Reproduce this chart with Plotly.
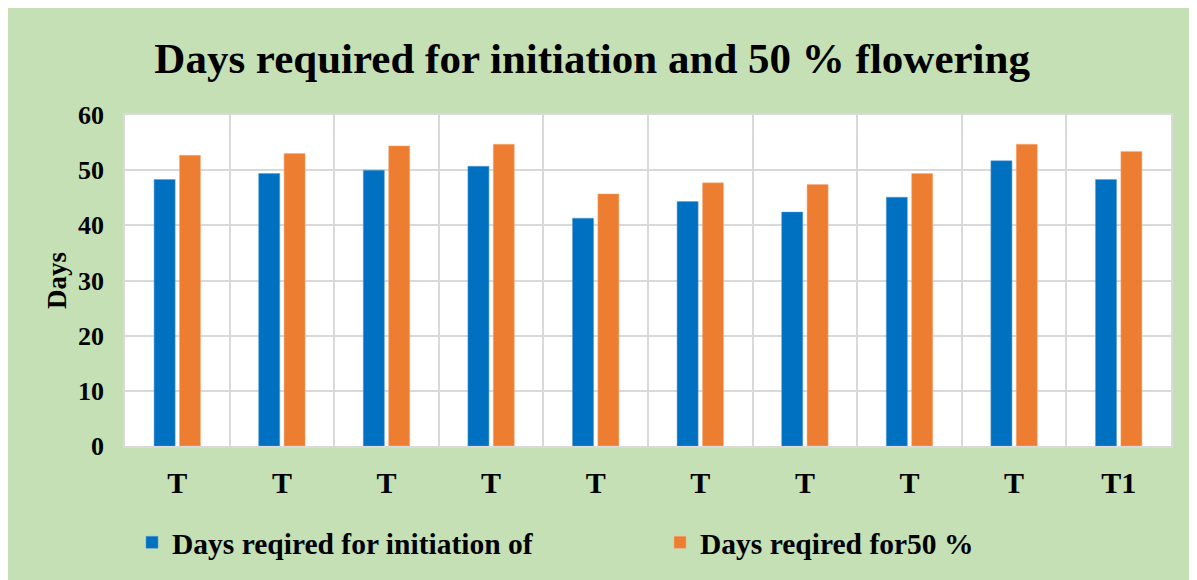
import plotly.graph_objects as go

categories = ["T", "T", "T", "T", "T", "T", "T", "T", "T", "T1"]
initiation = [48.3, 49.4, 50.0, 50.7, 41.3, 44.3, 42.4, 45.1, 51.7, 48.3]
flowering50 = [52.7, 53.0, 54.4, 54.7, 45.7, 47.7, 47.4, 49.4, 54.7, 53.4]
series_names = ["Days reqired for initiation of", "Days reqired for50 %"]
yticks = [0, 10, 20, 30, 40, 50, 60]

x = list(range(len(categories)))
boundaries = [i - 0.5 for i in range(len(categories) + 1)]

ff = "Liberation Serif"
grid_col = "#D9D9D9"

fig = go.Figure()
fig.add_trace(go.Bar(x=x, y=initiation, name=series_names[0], legend="legend",
                     marker=dict(color="#0070C0", line=dict(color="#5B9BD5", width=0.5))))
fig.add_trace(go.Bar(x=x, y=flowering50, name=series_names[1], legend="legend2",
                     marker=dict(color="#ED7D31", line=dict(color="#F4B183", width=0.5))))

leg_font = dict(family=ff, size=29.5, color="black", weight="bold")
fig.update_layout(
    width=1197, height=580,
    paper_bgcolor="#C5E0B4", plot_bgcolor="white",
    margin=dict(l=117, r=34, t=107, b=142),
    barmode="group", bargap=0.515, bargroupgap=0.17,
    title=dict(text="Days required for initiation and 50 % flowering",
               font=dict(family=ff, size=43, color="black", weight="bold"),
               x=0.488, xanchor="center", xref="container", y=0.914, yanchor="middle", yref="container"),
    legend=dict(orientation="h", x=0.0067, xanchor="left", y=-0.292, yanchor="middle",
                font=leg_font, bgcolor="rgba(0,0,0,0)"),
    legend2=dict(orientation="h", x=0.5115, xanchor="left", y=-0.292, yanchor="middle",
                 font=leg_font, bgcolor="rgba(0,0,0,0)"),
    showlegend=True,
)
fig.update_xaxes(
    tickmode="array", tickvals=x, ticktext=categories,
    range=[-0.5, len(categories) - 0.5],
    tickfont=dict(family=ff, size=30, color="black", weight="bold"),
    showgrid=False, ticks="", ticklabelstandoff=9,
    minor=dict(tickmode="array", tickvals=boundaries, showgrid=True, gridcolor=grid_col, gridwidth=1.5, ticks=""),
    showline=True, linecolor=grid_col, linewidth=1.5, mirror=True, zeroline=False,
)
fig.update_yaxes(
    range=[0, 60], tickmode="array", tickvals=yticks,
    tickfont=dict(family=ff, size=26, color="black", weight="bold"),
    showgrid=True, gridcolor=grid_col, gridwidth=1.5,
    title=dict(text="Days", font=dict(family=ff, size=27, color="black", weight="bold"), standoff=4),
    showline=True, linecolor=grid_col, linewidth=1.5, mirror=True, zeroline=False,
    ticks="", ticklabelstandoff=14,
)
fig.write_html("out.html")
